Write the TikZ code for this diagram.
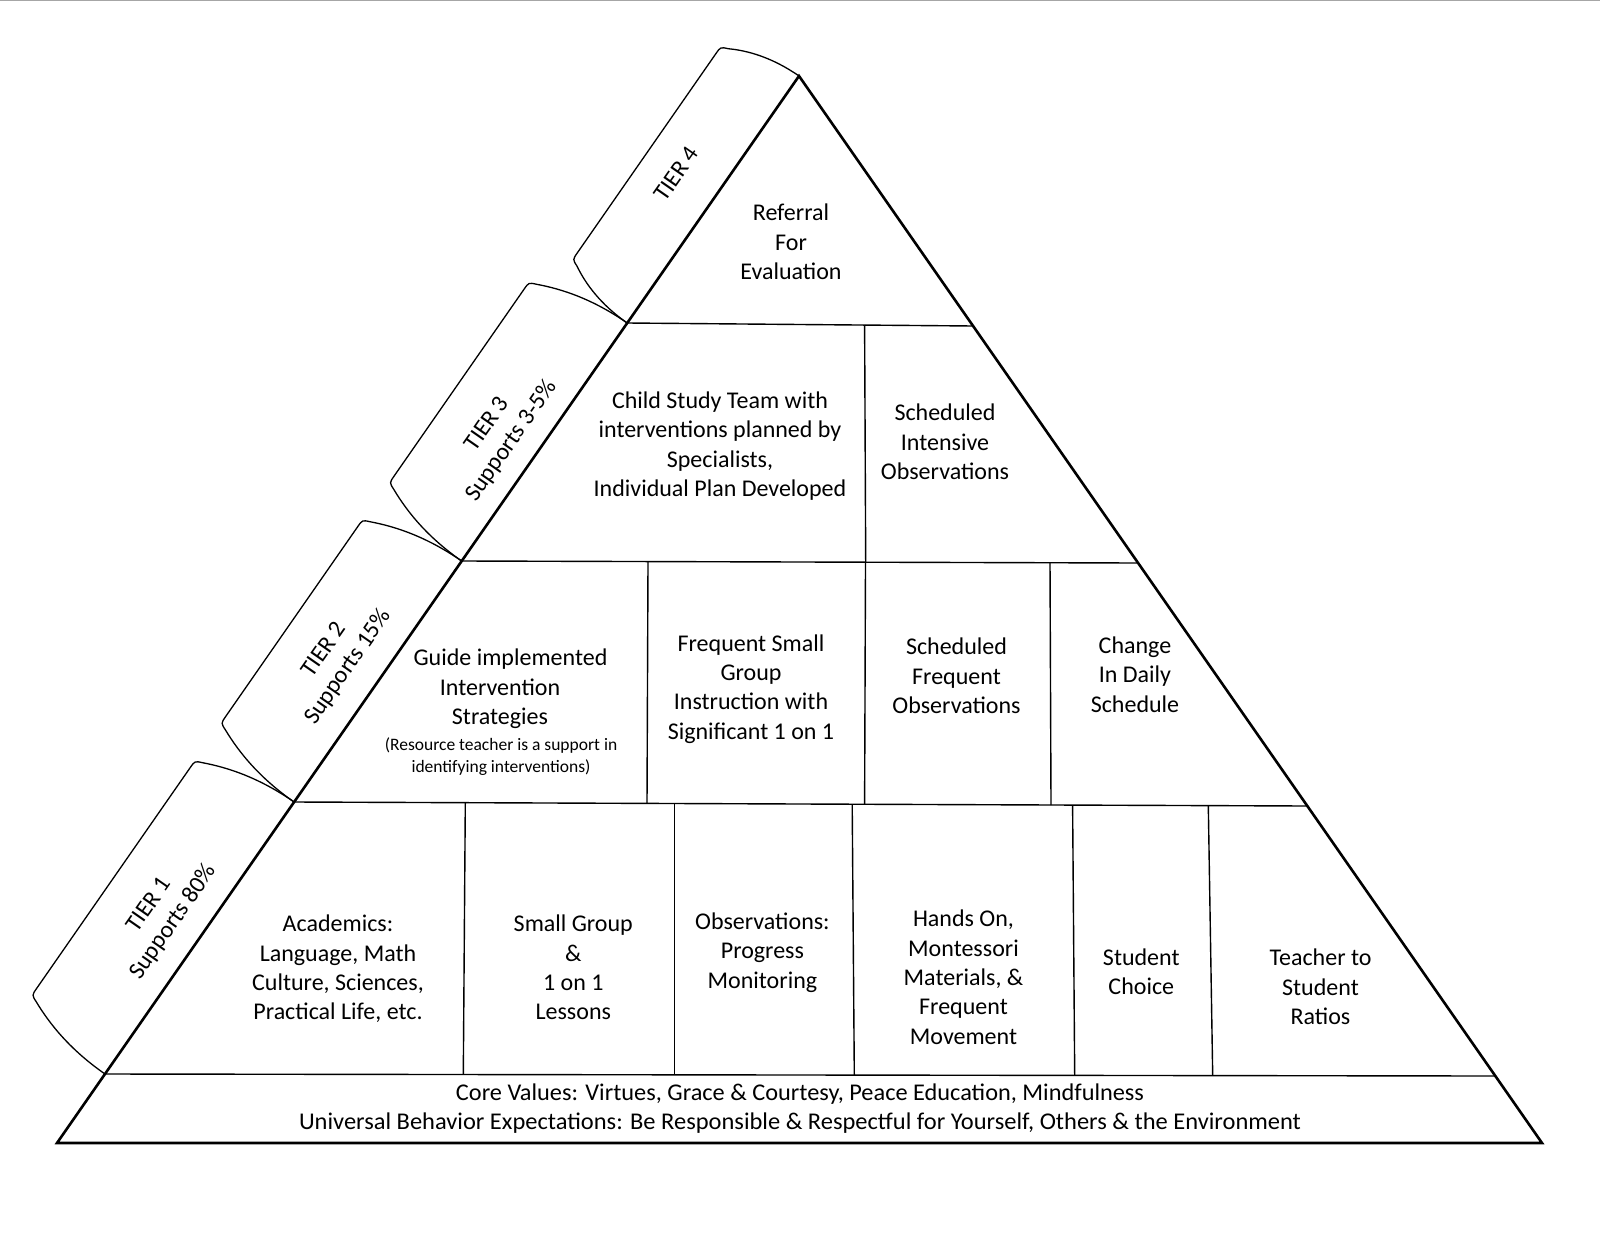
\documentclass[tikz,border=0pt]{standalone}
\usepackage{fontspec}
\setmainfont{Carlito}
\usepackage{graphicx}
\tikzset{
  edgeline/.style={line width=2.6pt, line join=miter},
  cellline/.style={line width=1.4pt},
  tabline/.style={line width=1.3pt},
  txt/.style={font=\fontsize{24}{29.3}\selectfont, align=center, inner sep=0pt},
  smalltxt/.style={font=\fontsize{17.5}{22}\selectfont, align=center, inner sep=0pt},
}
\newcommand\tabdraw[3]{%
 \draw[tabline] (0,0) .. controls (0,{0.4*#2}) and ({0.4*#3},{0.7*#2}) .. ({#3-3},{#2-7.4})
   .. controls (#3,#2) .. ({#3+8},#2) -- ({#1-#3-8},#2)
   .. controls ({#1-#3},#2) .. ({#1-#3+3},{#2-7.4})
   .. controls ({#1-0.4*#3},{0.7*#2}) and (#1,{0.4*#2}) .. (#1,0);}
\begin{document}
\begin{tikzpicture}[x=1pt,y=-1pt]
\useasboundingbox (0,0) rectangle (1600,1236);
\fill[white] (0,0) rectangle (1600,1236);
\draw[black!35, line width=1pt] (0,0.6) -- (1600,0.6);
% corners
\coordinate (A) at (799,76);
\coordinate (L4) at (627.2,323);  \coordinate (R4) at (973.1,326);
\coordinate (L3) at (461.7,561);  \coordinate (R3) at (1138.1,563);
\coordinate (L2) at (294.1,802);  \coordinate (R2) at (1307.3,806);
\coordinate (L1) at (105,1074);   \coordinate (R1) at (1495.3,1076);
\coordinate (BL) at (57,1143);    \coordinate (BR) at (1542,1143);
% tabs
\begin{scope}[shift={(L4)}, rotate=55.18, y=1pt]
  \tabdraw{300.9}{81}{21}
  \node[txt, transform shape] (t4) at (150.5,45) {TIER 4};
\end{scope}
\begin{scope}[shift={(L3)}, rotate=55.18, y=1pt]
  \tabdraw{289.9}{104}{23}
  \node[txt, transform shape] (t3) at (127,42) {TIER 3\\Supports 3-5\%};
\end{scope}
\begin{scope}[shift={(L2)}, rotate=55.18, y=1pt]
  \tabdraw{293.5}{105}{23}
  \node[txt, transform shape] (t2) at (142,47) {TIER 2\\Supports 15\%};
\end{scope}
\begin{scope}[shift={(L1)}, rotate=55.18, y=1pt]
  \tabdraw{331.3}{105}{23}
  \node[txt, transform shape] (t1) at (164,45) {TIER 1\\Supports 80\%};
\end{scope}
% pyramid outline
\draw[edgeline] (A) -- (BL) -- (BR) -- cycle;
\draw[cellline] (L4) -- (R4);
\draw[cellline] (L3) -- (R3);
\draw[cellline] (L2) -- (R2);
\draw[cellline] (L1) -- (R1);
% dividers
\draw[cellline] (864.6,325) -- (865.7,562.2);
\draw[cellline] (648,561.6) -- (647,803.4);
\draw[cellline] (865.5,562.2) -- (864.6,804.3);
\draw[cellline] (1050,562.7) -- (1051,805);
\draw[cellline] (465.3,802.7) -- (463.3,1074.5);
\draw[cellline] (674.7,803.5) -- (674.7,1074.8);
\draw[cellline] (852.2,804.2) -- (854.3,1075.1);
\draw[cellline] (1072.6,805.1) -- (1074.7,1075.4);
\draw[cellline] (1208.3,805.6) -- (1212.7,1075.6);
% texts
\node[txt] (n4) at (791,242) {Referral\\For\\Evaluation};
\node[txt] (n3a) at (720,446) {Child Study Team with\\interventions planned by\\Specialists,\\Individual Plan Developed};
\node[txt] (n3b) at (945,442) {Scheduled\\Intensive\\Observations};
\node[txt] (n2a) at (500,689) {\hspace*{21pt}Guide implemented\\Intervention\\Strategies};
\node[smalltxt] (n2s) at (501,757) {(Resource teacher is a support in\\identifying interventions)};
\node[txt] (n2b) at (751,689) {Frequent Small\\Group\\Instruction with\\Significant 1 on 1};
\node[txt] (n2c) at (956.5,676) {Scheduled\\Frequent\\Observations};
\node[txt] (n2d) at (1135,674.5) {Change\\In Daily\\Schedule};
\node[txt] (n1a) at (338,969) {Academics:\\Language, Math\\Culture, Sciences,\\Practical Life, etc.};
\node[txt] (n1b) at (573.3,967.6) {Small Group\\\&\\1 on 1\\Lessons};
\node[txt] (n1c) at (762.4,952.5) {Observations:\\Progress\\Monitoring};
\node[txt] (n1d) at (963.5,977.3) {Hands On,\\Montessori\\Materials, \&\\Frequent\\Movement};
\node[txt] (n1e) at (1141.3,972) {Student\\Choice};
\node[txt] (n1f) at (1320.5,987) {Teacher to\\Student\\Ratios};
\node[txt] (c1) at (800,1094) {\resizebox{688pt}{\height}{Core Values: Virtues, Grace \& Courtesy, Peace Education, Mindfulness}};
\node[txt] (c2) at (800,1123.5) {\resizebox{1002pt}{\height}{Universal Behavior Expectations: Be Responsible \& Respectful for Yourself, Others \& the Environment}};
\end{tikzpicture}
\end{document}
